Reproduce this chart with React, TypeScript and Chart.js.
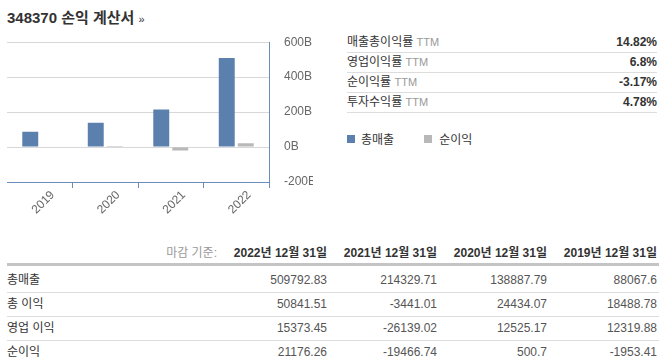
import React, { useEffect, useRef } from "react";
import { Chart, registerables } from "chart.js";

Chart.register(...registerables);

const years = ["2019", "2020", "2021", "2022"];
const revenueB = [88.07, 138.89, 214.33, 509.79];
const netIncomeB = [-1.95, 0.5, -19.47, 21.18];
const yTicks = [-200, 0, 200, 400, 600];

const ratioLabels = ["매출총이익률", "영업이익률", "순이익률", "투자수익률"];
const ratioValues = ["14.82%", "6.8%", "-3.17%", "4.78%"];

const tableDates = ["2022년 12월 31일", "2021년 12월 31일", "2020년 12월 31일", "2019년 12월 31일"];
const rowLabels = ["총매출", "총 이익", "영업 이익", "순이익"];
const rowRevenue = ["509792.83", "214329.71", "138887.79", "88067.6"];
const rowGross = ["50841.51", "-3441.01", "24434.07", "18488.78"];
const rowOperating = ["15373.45", "-26139.02", "12525.17", "12319.88"];
const rowNet = ["21176.26", "-19466.74", "500.7", "-1953.41"];
const tableRows = [rowRevenue, rowGross, rowOperating, rowNet];

const BLUE = "#5b80ad";
const GRAY = "#b8b8b8";
const AXIS = "#6a8dbb";
const FONT = "'Liberation Sans', Arial, 'Noto Sans CJK KR', sans-serif";

function BarChart() {
  const ref = useRef<HTMLCanvasElement | null>(null);
  useEffect(() => {
    if (!ref.current) return;
    const chart = new Chart(ref.current, {
      type: "bar",
      data: {
        labels: years,
        datasets: [
          { label: "총매출", data: revenueB, backgroundColor: BLUE, categoryPercentage: 0.58, barPercentage: 0.84 },
          { label: "순이익", data: netIncomeB, backgroundColor: GRAY, categoryPercentage: 0.58, barPercentage: 0.84 },
        ],
      },
      options: {
        animation: false,
        responsive: false,
        maintainAspectRatio: false,
        layout: { padding: { left: 7, top: 9, right: 0, bottom: 0 } },
        plugins: { legend: { display: false }, tooltip: { enabled: false } },
        scales: {
          x: {
            offset: true,
            grid: {
              offset: true,
              drawOnChartArea: false,
              drawTicks: true,
              tickLength: 6,
              color: (ctx: any) => (ctx.index === 0 ? "rgba(0,0,0,0)" : AXIS),
            },
            border: { display: true, color: AXIS, width: 1 },
            ticks: {
              color: "#666",
              font: { family: FONT, size: 12 },
              minRotation: 45,
              maxRotation: 45,
              padding: 0,
              labelOffset: 13,
              autoSkip: false,
            },
            afterFit: (s: any) => {
              s.height = 36;
            },
          },
          y: {
            position: "right",
            min: yTicks[0],
            max: yTicks[yTicks.length - 1],
            afterBuildTicks: (s: any) => {
              s.ticks = yTicks.map((v) => ({ value: v }));
            },
            grid: { color: "#d8d8d8", drawTicks: false },
            border: { display: true, color: AXIS, width: 1 },
            ticks: {
              color: "#666",
              font: { family: FONT, size: 12 },
              padding: 15,
              callback: (v: any) => `${v}B`,
            },
            afterFit: (s: any) => {
              s.width = 47;
            },
          },
        },
      },
    });
    return () => chart.destroy();
  }, []);
  return (
    <div style={{ position: "absolute", left: 0, top: 20, width: 313, height: 203, overflow: "hidden" }}>
      <canvas ref={ref} width={316} height={198} style={{ width: 316, height: 198, display: "block" }} />
    </div>
  );
}

export default function App() {
  return (
    <div style={{ position: "relative", width: 666, height: 360, fontFamily: FONT, color: "#333", overflow: "hidden" }}>
      <style>{"body{margin:0;}"}</style>
      <div style={{ position: "absolute", left: 7, top: 6, fontSize: 15, fontWeight: "bold", color: "#333", whiteSpace: "nowrap" }}>
        348370 손익 계산서 <span style={{ fontSize: 11, fontWeight: "normal" }}>»</span>
      </div>
      <BarChart />
      <div style={{ position: "absolute", left: 347, top: 33, width: 310 }}>
        {ratioLabels.map((l, i) => (
          <div
            key={l}
            style={{
              height: 19,
              lineHeight: "19px",
              borderBottom: "1px solid #ddd",
              display: "flex",
              justifyContent: "space-between",
              fontSize: 12,
            }}
          >
            <span>
              {l} <span style={{ color: "#999", fontSize: 11 }}>TTM</span>
            </span>
            <span style={{ fontWeight: "bold" }}>{ratioValues[i]}</span>
          </div>
        ))}
        <div style={{ marginTop: 17, fontSize: 12, display: "flex", alignItems: "center" }}>
          <span style={{ display: "inline-block", width: 8, height: 8, background: BLUE, marginRight: 6 }} />
          <span style={{ marginRight: 30 }}>{"총매출"}</span>
          <span style={{ display: "inline-block", width: 8, height: 8, background: GRAY, marginRight: 7 }} />
          <span>{"순이익"}</span>
        </div>
      </div>
      <div style={{ position: "absolute", left: 7, top: 243, width: 652, fontSize: 12 }}>
        <div style={{ display: "flex", height: 20, lineHeight: "20px", borderBottom: "3px solid #c4c4c4" }}>
          <div style={{ width: 210, textAlign: "right", color: "#999" }}>마감 기준:</div>
          {tableDates.map((d) => (
            <div key={d} style={{ width: 110, textAlign: "right", fontWeight: "bold" }}>
              {d}
            </div>
          ))}
        </div>
        <div style={{ height: 3 }} />
        {rowLabels.map((lab, r) => (
          <div
            key={lab}
            style={{
              display: "flex",
              height: 23,
              lineHeight: "23px",
              borderBottom: r < rowLabels.length - 1 ? "1px solid #ddd" : "none",
            }}
          >
            <div style={{ width: 210 }}>{lab}</div>
            {tableRows[r].map((v, c) => (
              <div key={c} style={{ width: 110, textAlign: "right", color: "#555" }}>
                {v}
              </div>
            ))}
          </div>
        ))}
      </div>
    </div>
  );
}
